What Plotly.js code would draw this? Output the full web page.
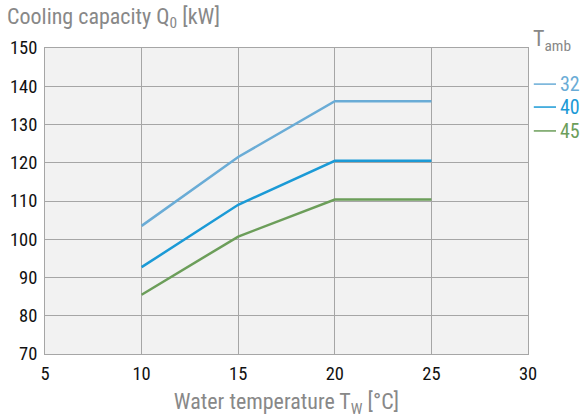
<!DOCTYPE html>
<html><head><meta charset="utf-8">
<script src="https://cdn.plot.ly/plotly-3.0.1.min.js"></script>
<style>html,body{margin:0;padding:0;background:#fff}</style>
</head><body>
<div id="chart" style="width:586px;height:418px"></div>
<script>
const waterTemp = [10, 15, 20, 25];
const seriesNames = ['32', '40', '45'];
const q32 = [103.5, 121.5, 136.1, 136.1];
const q40 = [92.7, 109.0, 120.5, 120.5];
const q45 = [85.5, 100.7, 110.4, 110.4];
const colors = ['#6aacd6', '#1b9ad6', '#6c9e5a'];
const F = '"Roboto Condensed", Roboto, sans-serif';
const ys = [q32, q40, q45];
const traces = ys.map((y, i) => ({
  x: waterTemp, y: y, type: 'scatter', mode: 'lines', name: seriesNames[i],
  line: {color: colors[i], width: 2.5}, showlegend: false
}));
const legY = [0.882, 0.807, 0.729];
const shapes = seriesNames.map((n, i) => ({type: 'line', xref: 'paper', yref: 'paper',
  x0: 1.012, x1: 1.058, y0: legY[i], y1: legY[i], line: {color: colors[i], width: 1.5}}));
const annotations = seriesNames.map((n, i) => ({xref: 'paper', yref: 'paper', x: 1.062, y: legY[i],
  xanchor: 'left', yanchor: 'middle', showarrow: false, text: n,
  font: {family: F, size: 20, color: colors[i]}}));
annotations.push({xref: 'paper', yref: 'paper', x: 1.006, y: 1.025, xanchor: 'left', yanchor: 'middle',
  showarrow: false, text: 'T<sub>amb</sub>', font: {family: F, size: 22, color: '#888'}});
const layout = {
  width: 586, height: 418,
  margin: {l: 45, r: 58, t: 48, b: 64},
  paper_bgcolor: '#fff', plot_bgcolor: '#f2f2f2',
  font: {family: F, size: 16, color: '#111'},
  title: {text: 'Cooling capacity Q<sub>0</sub> [kW]', x: 0.012, xanchor: 'left', y: 0.962, yanchor: 'middle', font: {family: F, size: 22, color: '#888'}},
  xaxis: {range: [5, 30], dtick: 5, tick0: 5, showgrid: true, gridcolor: '#a6a6a6', gridwidth: 1,
    showline: true, linecolor: '#a6a6a6', mirror: true, zeroline: false, ticks: '', ticklen: 0,
    ticklabelstandoff: 3,
    tickfont: {family: F, size: 18.5, color: '#111'},
    title: {text: 'Water temperature T<sub>W</sub> [°C]', font: {family: F, size: 22, color: '#888'}, standoff: 10}},
  yaxis: {range: [70, 150], dtick: 10, showgrid: true, gridcolor: '#a6a6a6', gridwidth: 1,
    showline: true, linecolor: '#a6a6a6', mirror: true, zeroline: false, ticks: '',
    ticklabelstandoff: 3,
    tickfont: {family: F, size: 18.5, color: '#111'}},
  shapes: shapes, annotations: annotations,
  showlegend: false
};
Plotly.newPlot('chart', traces, layout, {displayModeBar: false, staticPlot: true});
</script>
</body></html>
